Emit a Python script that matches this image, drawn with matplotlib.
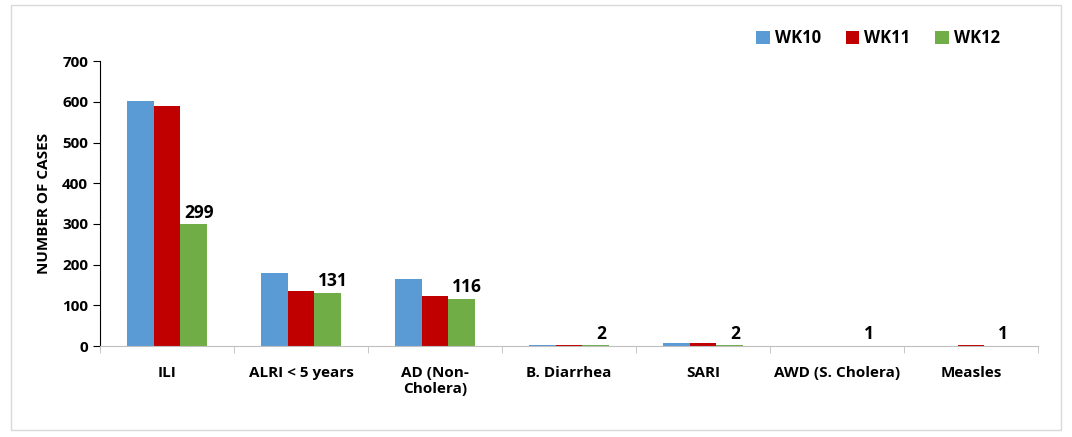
import numpy as np
import matplotlib.pyplot as plt
from matplotlib.patches import Rectangle

# weekly case counts per disease
categories = ["ILI", "ALRI < 5 years", "AD (Non-\nCholera)", "B. Diarrhea",
              "SARI", "AWD (S. Cholera)", "Measles"]
wk10 = [603, 179, 166, 3, 8, 1, 0]
wk11 = [591, 135, 124, 2, 7, 1, 3]
wk12 = [299, 131, 116, 2, 2, 1, 1]
series = ["WK10", "WK11", "WK12"]
colors = ["#5b9bd5", "#c00000", "#70ad47"]

plt.rcParams['font.family'] = ['Open Sans', 'DejaVu Sans']
plt.rcParams['font.weight'] = 'bold'

fig = plt.figure(figsize=(10.72, 4.37), dpi=100)
ax = fig.add_axes([0.0933, 0.208, 0.875, 0.652])

# outer frame of the chart
fig.patches.append(Rectangle((11/1072, 1 - 430/437), 1050/1072, 425/437,
                             transform=fig.transFigure, fill=False,
                             edgecolor="#d9d9d9", linewidth=1))

x = np.arange(len(categories))
w = 0.2
for i, (vals, name) in enumerate(zip([wk10, wk11, wk12], series)):
    bars = ax.bar(x + (i - 1) * w, vals, w, color=colors[i], label=name)
    if name == "WK12":
        for b, v in zip(bars, vals):
            ax.text(b.get_x() + b.get_width() / 2 + 0.04, v + 6, str(v),
                    ha="center", va="bottom", fontsize=12.5, fontweight="bold")

ax.set_xlim(-0.5, len(categories) - 0.5)
ax.set_ylim(0, 700)
ax.set_yticks(range(0, 701, 100))
ax.set_xticks(np.arange(-0.5, len(categories), 1), minor=True)
ax.set_xticks(x)
ax.set_xticklabels(categories, fontsize=11, fontweight="bold")
ax.tick_params(axis="x", which="major", length=0, pad=14)
ax.tick_params(axis="x", which="minor", length=5, color="#bfbfbf")
ax.tick_params(axis="y", labelsize=11, length=5, direction="out")
for t in ax.get_yticklabels():
    t.set_fontweight("bold")
ax.set_ylabel("NUMBER OF CASES", fontsize=11, fontweight="bold", labelpad=8)

ax.spines["top"].set_visible(False)
ax.spines["right"].set_visible(False)
ax.spines["bottom"].set_color("#bfbfbf")
ax.spines["left"].set_color("black")

ax.legend(loc="center right", bbox_to_anchor=(0.975, 1.08), ncol=3, frameon=False,
          handlelength=0.8, handleheight=0.8, columnspacing=1.5,
          handletextpad=0.3, prop={"weight": "bold", "size": 12})

fig.savefig("out.png", dpi=100)
